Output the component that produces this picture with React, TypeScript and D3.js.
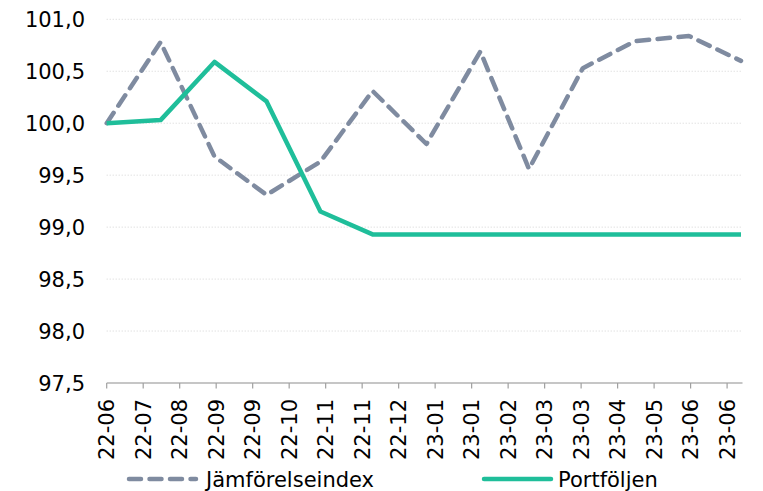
import React from 'react';
import * as d3 from 'd3';

// monthly observations, end of month
const dates = [
  '2022-06-30', '2022-07-31', '2022-08-31', '2022-09-30', '2022-10-31', '2022-11-30', '2022-12-31',
  '2023-01-31', '2023-02-28', '2023-03-31', '2023-04-30', '2023-05-31', '2023-06-30',
];
const jamforelseindex = [100.0, 100.78, 99.68, 99.31, 99.63, 100.31, 99.8, 100.69, 99.56, 100.53, 100.79, 100.84, 100.6];
const portfoljen = [100.0, 100.03, 100.59, 100.21, 99.15, 98.93, 98.93, 98.93, 98.93, 98.93, 98.93, 98.93, 98.93];

// date axis with a 21-day major unit
const tickDates = [
  '2022-06-30', '2022-07-21', '2022-08-11', '2022-09-01', '2022-09-22', '2022-10-13',
  '2022-11-03', '2022-11-24', '2022-12-15', '2023-01-05', '2023-01-26', '2023-02-16',
  '2023-03-09', '2023-03-30', '2023-04-20', '2023-05-11', '2023-06-01', '2023-06-22',
];
const yTicks = [97.5, 98.0, 98.5, 99.0, 99.5, 100.0, 100.5, 101.0];

const series = [
  { name: 'Jämförelseindex', values: jamforelseindex, color: '#7f8ba0', dash: '12.5,8.5' },
  { name: 'Portföljen', values: portfoljen, color: '#1fbe9a', dash: null },
];

const W = 763, H = 491;
const left = 106.7, right = 741, top = 19.3, bottom = 383;
const font = '"DejaVu Sans", Verdana, sans-serif';
const fs = 21;

export default function App() {
  const parse = d3.utcParse('%Y-%m-%d');
  const fmt = d3.utcFormat('%y-%m');
  const x = d3.scaleUtc()
    .domain([parse(dates[0])!, parse(dates[dates.length - 1])!])
    .range([left, right]);
  const y = d3.scaleLinear().domain([97.5, 101.0]).range([bottom, top]);
  const num = (v: number) => v.toFixed(1).replace('.', ',');

  const line = (vals: number[]) =>
    d3.line<number>()
      .x((_, i) => x(parse(dates[i])!))
      .y(d => y(d))(vals) || '';

  return (
    <svg width={W} height={H} style={{ position: 'absolute', left: 0, top: 0, background: '#fff' }}
      fontFamily={font}>
      {yTicks.map(t => (
        <g key={t}>
          {t > 97.5 && (
            <line x1={left} x2={742.5} y1={y(t)} y2={y(t)} stroke="#d4d4d4" strokeWidth={1} strokeDasharray="1,2" />
          )}
          <text x={85} y={y(t)} dy="0.36em" textAnchor="end" fontSize={fs} fill="#000">{num(t)}</text>
        </g>
      ))}

      <line x1={left} x2={742.5} y1={bottom} y2={bottom} stroke="#b3b3b3" strokeWidth={1.3} />
      {tickDates.map((d, i) => {
        const tx = x(parse(d)!);
        return (
          <g key={i}>
            <line x1={tx} x2={tx} y1={bottom} y2={bottom + 5.5} stroke="#a0a0a0" strokeWidth={1.2} />
            <text transform={`translate(${tx},${bottom + 16}) rotate(-90)`} dy="0.36em"
              textAnchor="end" fontSize={fs} fill="#000">{fmt(parse(d)!)}</text>
          </g>
        );
      })}

      {series.map(s => (
        <path key={s.name} d={line(s.values)} fill="none" stroke={s.color} strokeWidth={4.5}
          strokeLinejoin="round" strokeLinecap={s.dash ? 'round' : 'butt'}
          strokeDasharray={s.dash || undefined} />
      ))}

      <g>
        <line x1={129} x2={196} y1={479} y2={479} stroke={series[0].color} strokeWidth={4.5}
          strokeLinecap="round" strokeDasharray="12,8.5" />
        <text x={206} y={479} dy="0.36em" fontSize={fs} fill="#000">{series[0].name}</text>
        <line x1={484} x2={551} y1={479} y2={479} stroke={series[1].color} strokeWidth={4.5}
          strokeLinecap="round" />
        <text x={558} y={479} dy="0.36em" fontSize={fs} fill="#000">{series[1].name}</text>
      </g>
    </svg>
  );
}
